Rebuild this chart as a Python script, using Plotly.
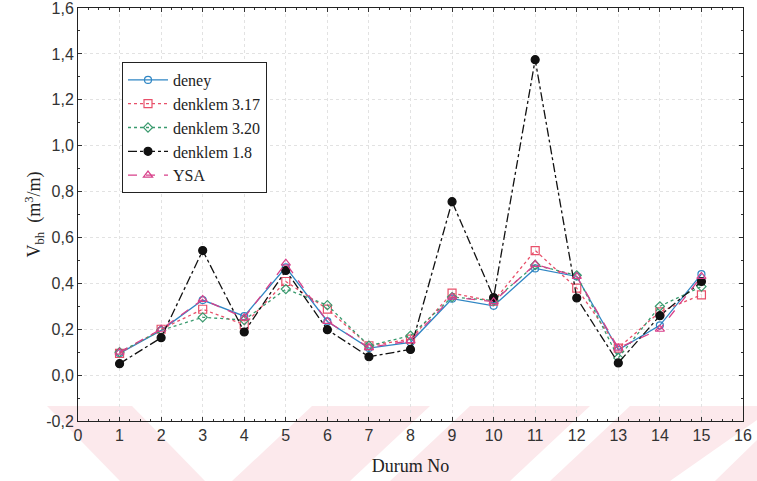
import plotly.graph_objects as go

# ---------------- data ----------------
durum = list(range(1, 16))
deney = [0.095, 0.195, 0.327, 0.257, 0.470, 0.234, 0.118, 0.143, 0.333, 0.302, 0.465, 0.430, 0.110, 0.217, 0.440]
denklem_317 = [0.095, 0.200, 0.287, 0.220, 0.408, 0.288, 0.128, 0.157, 0.357, 0.322, 0.543, 0.379, 0.118, 0.276, 0.350]
denklem_320 = [0.100, 0.195, 0.252, 0.240, 0.375, 0.305, 0.128, 0.172, 0.340, 0.325, 0.480, 0.435, 0.075, 0.300, 0.386]
denklem_18 = [0.050, 0.163, 0.543, 0.188, 0.456, 0.198, 0.080, 0.112, 0.756, 0.338, 1.375, 0.336, 0.053, 0.259, 0.408]
ysa = [0.100, 0.200, 0.330, 0.250, 0.488, 0.234, 0.120, 0.150, 0.340, 0.320, 0.483, 0.430, 0.118, 0.200, 0.430]

y_tick_vals = [-0.2, 0.0, 0.2, 0.4, 0.6, 0.8, 1.0, 1.2, 1.4, 1.6]
y_tick_text = ["-0,2", "0,0", "0,2", "0,4", "0,6", "0,8", "1,0", "1,2", "1,4", "1,6"]
x_tick_vals = list(range(0, 17))

# ---------------- figure ----------------
W, H = 757, 481
ML, MR, MT, MB = 78, 14, 8, 60
PW, PH = W - ML - MR, H - MT - MB

fig = go.Figure()

series = [
    ("deney", deney, "#2f86c4", "solid", "circle-open", 7),
    ("denklem 3.17", denklem_317, "#e8506a", "dot", "square-open", 8),
    ("denklem 3.20", denklem_320, "#3a9a6e", "dot", "diamond-open", 7),
    ("denklem 1.8", denklem_18, "#111111", "dashdot", "circle", 8),
    ("YSA", ysa, "#d8408a", "dash", "triangle-up-open", 8),
]
for name, vals, col, dash, sym, size in series:
    fig.add_trace(go.Scatter(
        x=durum, y=vals, name=name, mode="lines+markers",
        line=dict(color=col, width=1.3, dash=dash),
        marker=dict(symbol=sym, size=size, color=col, line=dict(color=col, width=1.2)),
    ))

# faint watermark stripes (decoration), in pixel -> paper coords
def px(xp, yp):
    return (xp - ML) / PW, (H - MB - yp) / PH

wm = [
    [(47, 406), (132, 406), (205, 481), (120, 481)],
    [(312, 406), (430, 406), (350, 481), (232, 481)],
    [(470, 406), (590, 406), (510, 481), (390, 481)],
    [(630, 406), (757, 406), (757, 420), (670, 481), (550, 481)],
    [(757, 440), (757, 481), (715, 481)],
]
shapes = []
for poly in wm:
    pts = [px(a, b) for a, b in poly]
    path = "M " + " L ".join(f"{p[0]:.4f},{p[1]:.4f}" for p in pts) + " Z"
    shapes.append(dict(type="path", xref="paper", yref="paper", path=path,
                       fillcolor="#fce9ec", line=dict(width=0), layer="below"))

serif = "Liberation Serif"
sans = "Liberation Sans"

fig.update_layout(
    width=W, height=H,
    margin=dict(l=ML, r=MR, t=MT, b=MB, autoexpand=False),
    paper_bgcolor="white", plot_bgcolor="rgba(0,0,0,0)",
    shapes=shapes,
    font=dict(family=sans, size=14, color="#333333"),
    legend=dict(
        x=(122 - ML) / PW, y=(H - MB - 62) / PH, xanchor="left", yanchor="top",
        bgcolor="white", bordercolor="#222222", borderwidth=1,
        font=dict(family=serif, size=16, color="#222222"),
        tracegroupgap=0, itemwidth=40,
    ),
    xaxis=dict(
        range=[0, 16.0001], tickvals=x_tick_vals, ticks="inside", ticklen=4, automargin=False,
        ticklabeloverflow="allow",
        tickcolor="#333", showline=True, linecolor="#222", linewidth=1, mirror="allticks",
        showgrid=True, gridcolor="#e2e2e2", griddash="dot", gridwidth=1, zeroline=False,
        minor=dict(dtick=0.25, ticks="inside", ticklen=2, tickcolor="#333"),
        tickfont=dict(family=sans, size=16, color="#333"),
        title=dict(text="Durum No", font=dict(family=serif, size=18, color="#222"), standoff=16),
    ),
    yaxis=dict(
        range=[-0.2, 1.6001], tickvals=y_tick_vals, ticktext=y_tick_text, ticks="inside", ticklen=4,
        automargin=False, ticklabeloverflow="allow",
        tickcolor="#333", showline=True, linecolor="#222", linewidth=1, mirror="allticks",
        showgrid=True, gridcolor="#e2e2e2", griddash="dot", gridwidth=1, zeroline=False,
        minor=dict(dtick=0.1, ticks="inside", ticklen=2, tickcolor="#333"),
        tickfont=dict(family=sans, size=16, color="#333"),
        title=dict(text="V<sub>bh</sub>  (m<sup>3</sup>/m)", font=dict(family=serif, size=18, color="#222"), standoff=0),
    ),
)

fig.write_html("out.html", config={"displayModeBar": False},
               post_script="document.body.style.margin='0';")
